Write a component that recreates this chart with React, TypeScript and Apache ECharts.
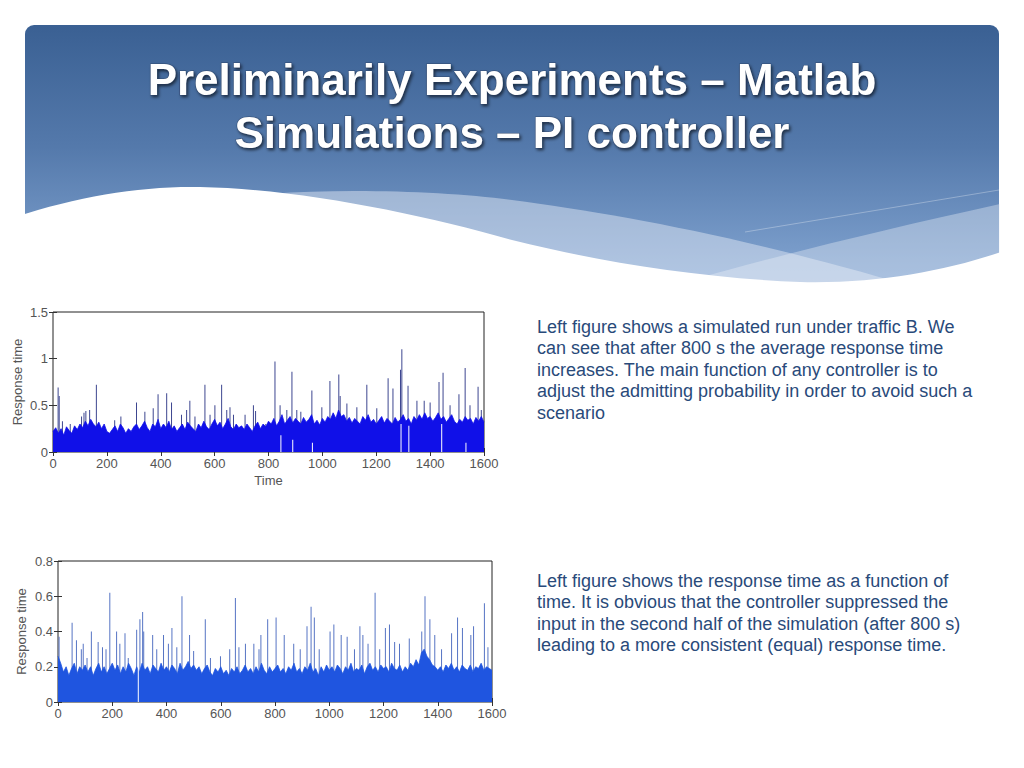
import React, { useEffect, useRef } from "react";
import * as echarts from "echarts";

// ---------- texts ----------
const TITLE_LINES = ["Preliminarily Experiments – Matlab", "Simulations – PI controller"];
const PARA1 = [
  "Left figure shows a simulated run under traffic B. We",
  "can see that after 800 s the average response time",
  "increases. The main function of any controller is to",
  "adjust the admitting probability in order to avoid such a",
  "scenario",
];
const PARA2 = [
  "Left figure shows the response time as a function of",
  "time. It is obvious that the controller suppressed the",
  "input in the second half of the simulation (after 800 s)",
  "leading to a more consistent (equal) response time.",
];
const Y_NAME = "Response time";
const X_NAME = "Time";

// ---------- data ----------
const TIME_MIN = 0;
const TIME_MAX = 1600;
const TIME_TICK = 200;
const BASE_STEP = 10; // seconds between base samples

// Plot 1 (no controller): base level of the dense fill
const base1 = [
  0.22, 0.26, 0.2, 0.25, 0.18, 0.27, 0.23, 0.2, 0.28, 0.24, 0.3,
  0.26, 0.33, 0.28, 0.35, 0.3, 0.27, 0.32, 0.25, 0.3, 0.22,
  0.2, 0.24, 0.28, 0.22, 0.3, 0.26, 0.2, 0.25, 0.22, 0.27,
  0.3, 0.24, 0.28, 0.33, 0.26, 0.22, 0.3, 0.27, 0.35, 0.25,
  0.3, 0.26, 0.33, 0.24, 0.28, 0.22, 0.26, 0.3, 0.24, 0.32,
  0.28, 0.25, 0.22, 0.3, 0.26, 0.33, 0.27, 0.24, 0.3, 0.35,
  0.28, 0.32, 0.25, 0.3, 0.36, 0.27, 0.24, 0.3, 0.26, 0.28,
  0.24, 0.3, 0.26, 0.22, 0.28, 0.32, 0.25, 0.3, 0.27, 0.33,
  0.3, 0.36, 0.28, 0.33, 0.4, 0.3, 0.34, 0.38, 0.31, 0.36,
  0.33, 0.3, 0.37, 0.32, 0.35, 0.4, 0.3, 0.34, 0.29, 0.36,
  0.32, 0.38, 0.35, 0.42, 0.36, 0.45, 0.38, 0.4, 0.33, 0.37,
  0.31, 0.36, 0.33, 0.3, 0.38, 0.34, 0.4, 0.32, 0.35, 0.3,
  0.34, 0.38, 0.31, 0.36, 0.33, 0.3, 0.37, 0.32, 0.35, 0.4,
  0.33, 0.36, 0.3, 0.38, 0.34, 0.4, 0.35, 0.42, 0.36, 0.38,
  0.33, 0.37, 0.42, 0.35, 0.38, 0.32, 0.36, 0.4, 0.33, 0.3,
  0.35, 0.32, 0.38, 0.34, 0.36, 0.3, 0.37, 0.33, 0.38, 0.32,
];
const spikeT1 = [
  19, 23, 35, 64, 106, 115, 122, 136, 161, 229, 252, 310, 341, 372, 390, 422, 440, 477, 496, 508,
  527, 564, 583, 601, 626, 645, 657, 670, 713, 744, 752, 790, 824, 843, 868, 887, 905, 920, 961, 998,
  1028, 1061, 1066, 1091, 1128, 1165, 1202, 1244, 1262, 1290, 1295, 1318, 1351, 1378, 1400, 1433,
  1448, 1474, 1507, 1530, 1548, 1578, 1590,
];
const spikeV1 = [
  0.69, 0.6, 0.33, 0.3, 0.38, 0.42, 0.44, 0.45, 0.72, 0.34, 0.38, 0.53, 0.43, 0.47, 0.62, 0.63, 0.53, 0.4, 0.45, 0.55,
  0.38, 0.72, 0.4, 0.5, 0.72, 0.45, 0.48, 0.4, 0.4, 0.5, 0.44, 0.3, 0.97, 0.5, 0.45, 0.86, 0.45, 0.43, 0.66, 0.48,
  0.76, 0.83, 0.6, 0.52, 0.48, 0.72, 0.47, 0.79, 0.68, 0.88, 1.1, 0.71, 0.55, 0.55, 0.53, 0.75,
  0.85, 0.5, 0.62, 0.9, 0.5, 0.7, 0.45,
];
const gapT1 = [846, 890, 963, 1292, 1321, 1443, 1533];
const gapV1 = [0.18, 0.13, 0.1, 0.3, 0.28, 0.3, 0.1];

// Plot 2 (PI controller)
const base2 = [
  0.26, 0.22, 0.17, 0.2, 0.15, 0.19, 0.22, 0.16, 0.2, 0.18, 0.21,
  0.17, 0.2, 0.15, 0.19, 0.22, 0.17, 0.2, 0.16, 0.19, 0.22,
  0.18, 0.21, 0.16, 0.2, 0.17, 0.22, 0.19, 0.15, 0.2, 0.17,
  0.22, 0.18, 0.2, 0.16, 0.21, 0.19, 0.17, 0.22, 0.18, 0.2,
  0.17, 0.21, 0.19, 0.16, 0.22, 0.18, 0.2, 0.23, 0.19, 0.21,
  0.18, 0.2, 0.16, 0.19, 0.21, 0.17, 0.15, 0.19, 0.17, 0.2,
  0.16, 0.18, 0.15, 0.19, 0.17, 0.2, 0.16, 0.18, 0.21, 0.17,
  0.19, 0.16, 0.2, 0.17, 0.22, 0.18, 0.16, 0.2, 0.17, 0.19,
  0.21, 0.17, 0.19, 0.16, 0.2, 0.18, 0.22, 0.17, 0.19, 0.16,
  0.2, 0.18, 0.22, 0.17, 0.19, 0.15, 0.2, 0.17, 0.21, 0.18,
  0.2, 0.17, 0.21, 0.19, 0.16, 0.2, 0.18, 0.22, 0.17, 0.19,
  0.18, 0.21, 0.16, 0.2, 0.22, 0.18, 0.2, 0.17, 0.21, 0.19,
  0.2, 0.17, 0.22, 0.19, 0.18, 0.21, 0.17, 0.2, 0.18, 0.22,
  0.2, 0.24, 0.21, 0.28, 0.3, 0.26, 0.24, 0.21, 0.2, 0.18,
  0.2, 0.17, 0.21, 0.19, 0.22, 0.18, 0.2, 0.17, 0.21, 0.19,
  0.18, 0.21, 0.17, 0.2, 0.19, 0.22, 0.18, 0.2, 0.19, 0.18,
];
const spikeT2 = [
  4, 52, 68, 86, 93, 107, 123, 148, 164, 177, 191, 216, 228, 247, 259, 290, 302, 312, 316, 349,
  364, 389, 407, 420, 438, 457, 485, 500, 543, 562, 599, 633, 654, 667, 691, 722, 741, 748, 773, 804,
  834, 869, 893, 918, 933, 945, 963, 1003, 1017, 1044, 1066, 1093, 1113, 1124, 1143, 1169, 1186, 1207,
  1222, 1241, 1259, 1295, 1341, 1353, 1371, 1389, 1414, 1451, 1473, 1491, 1522, 1532, 1572, 1585,
];
const spikeV2 = [
  0.37, 0.45, 0.35, 0.3, 0.33, 0.25, 0.4, 0.34, 0.31, 0.3, 0.62, 0.4, 0.33, 0.39, 0.25, 0.41, 0.47, 0.51, 0.4, 0.38,
  0.3, 0.38, 0.33, 0.42, 0.31, 0.6, 0.38, 0.29, 0.47, 0.25, 0.26, 0.3, 0.59, 0.31, 0.33, 0.33, 0.3, 0.38, 0.47, 0.48,
  0.38, 0.33, 0.3, 0.43, 0.54, 0.48, 0.3, 0.4, 0.44, 0.38, 0.37, 0.3, 0.43, 0.38, 0.33, 0.62, 0.3, 0.42,
  0.44, 0.34, 0.33, 0.36, 0.4, 0.6, 0.47, 0.38, 0.3, 0.39, 0.48, 0.42, 0.38, 0.43, 0.56, 0.31,
];
const gapT2 = [296];
const gapV2 = [0.3];

// ---------- decorative shapes ----------
const WAVE_WHITE =
  "M 15 217 C 80 196 140 186 200 187 C 300 189 420 214 512 240 C 600 262 700 278 800 282 C 880 284 950 270 1010 249 L 1010 300 L 15 300 Z";
const WAVE_BAND1 =
  "M 270 194 C 350 188 450 192 512 200 C 620 214 760 240 930 292 L 270 292 Z";
const WAVE_BAND2 = "M 640 296 C 720 270 850 237 1000 204 L 1000 296 Z";

echarts.graphic.registerShape("waveWhite", echarts.graphic.extendPath(WAVE_WHITE, {}) as any);
echarts.graphic.registerShape("waveBand1", echarts.graphic.extendPath(WAVE_BAND1, {}) as any);
echarts.graphic.registerShape("waveBand2", echarts.graphic.extendPath(WAVE_BAND2, {}) as any);

const FONT = "'Liberation Sans', Arial, Helvetica, sans-serif";

function pairs(times: number[], vals: number[]) {
  return vals.map((v, i) => [times[i], v]);
}
function basePairs(vals: number[]) {
  return vals.map((v, i) => [TIME_MIN + i * BASE_STEP, v]);
}

function makeAxes(gridIndex: number, yMax: number, yInt: number, yGap: number, showXName: boolean) {
  const tick = { show: true, inside: true, length: 4, lineStyle: { color: "#333", width: 1 } };
  const label = { color: "#555", fontSize: 13, fontFamily: FONT, margin: 5 };
  const xs = [
    {
      type: "value", gridIndex, min: TIME_MIN, max: TIME_MAX, interval: TIME_TICK,
      axisLine: { show: false }, axisTick: tick, splitLine: { show: false },
      axisLabel: { ...label, formatter: (v: number) => String(Math.round(v)) },
      name: showXName ? X_NAME : "", nameLocation: "middle", nameGap: 22,
      nameTextStyle: { color: "#555", fontSize: 13, fontFamily: FONT },
    },
    {
      type: "value", gridIndex, position: "top", min: TIME_MIN, max: TIME_MAX, interval: TIME_TICK,
      axisLine: { show: false }, axisTick: tick, splitLine: { show: false }, axisLabel: { show: false },
    },
  ];
  const ys = [
    {
      type: "value", gridIndex, min: 0, max: yMax, interval: yInt,
      axisLine: { show: false }, axisTick: tick, splitLine: { show: false },
      axisLabel: { ...label, formatter: (v: number) => String(+v.toFixed(1)) },
      name: Y_NAME, nameLocation: "middle", nameGap: yGap,
      nameTextStyle: { color: "#555", fontSize: 13, fontFamily: FONT },
    },
    {
      type: "value", gridIndex, position: "right", min: 0, max: yMax, interval: yInt,
      axisLine: { show: false }, axisTick: tick, splitLine: { show: false }, axisLabel: { show: false },
    },
  ];
  return { xs, ys };
}

export default function App() {
  const ref = useRef<HTMLDivElement>(null);

  useEffect(() => {
    if (!ref.current) return;
    const chart = echarts.init(ref.current, undefined, { renderer: "svg" });

    const a1 = makeAxes(0, 1.5, 0.5, 29, true);
    const a2 = makeAxes(1, 0.8, 0.2, 30, false);

    const c1 = "#1010e8";
    const s1 = "#3d4690";
    const c2 = "#1f55e0";
    const s2 = "#5674c4";

    const option: any = {
      animation: false,
      backgroundColor: "#ffffff",
      grid: [
        { left: 53, top: 312, width: 431, height: 140, show: true, borderColor: "#222", borderWidth: 1, backgroundColor: "#fff" },
        { left: 58, top: 561, width: 434, height: 141, show: true, borderColor: "#222", borderWidth: 1, backgroundColor: "#fff" },
      ],
      xAxis: [...a1.xs, ...a2.xs],
      yAxis: [...a1.ys, ...a2.ys],
      series: [
        {
          type: "bar", xAxisIndex: 0, yAxisIndex: 0, barWidth: 1, barGap: "-100%", z: 2,
          itemStyle: { color: s1 }, data: pairs(spikeT1, spikeV1),
        },
        {
          type: "line", xAxisIndex: 0, yAxisIndex: 0, showSymbol: false, symbol: "none", z: 3,
          lineStyle: { color: c1, width: 0.8 }, areaStyle: { color: c1, opacity: 1 },
          data: basePairs(base1),
        },
        {
          type: "bar", xAxisIndex: 0, yAxisIndex: 0, barWidth: 1, barGap: "-100%", z: 4,
          itemStyle: { color: "#ffffff" }, data: pairs(gapT1, gapV1),
        },
        {
          type: "bar", xAxisIndex: 2, yAxisIndex: 2, barWidth: 1, barGap: "-100%", z: 2,
          itemStyle: { color: s2 }, data: pairs(spikeT2, spikeV2),
        },
        {
          type: "line", xAxisIndex: 2, yAxisIndex: 2, showSymbol: false, symbol: "none", z: 3,
          lineStyle: { color: c2, width: 0.8 }, areaStyle: { color: c2, opacity: 1 },
          data: basePairs(base2),
        },
        {
          type: "bar", xAxisIndex: 2, yAxisIndex: 2, barWidth: 1, barGap: "-100%", z: 4,
          itemStyle: { color: "#ffffff" }, data: pairs(gapT2, gapV2),
        },
      ],
      graphic: [
        {
          type: "rect", shape: { x: 25, y: 25, width: 974, height: 270, r: [9, 9, 0, 0] }, z: 0,
          style: {
            fill: {
              type: "linear", x: 0, y: 0, x2: 0, y2: 1,
              colorStops: [
                { offset: 0, color: "#3a6093" },
                { offset: 0.45, color: "#5479ab" },
                { offset: 1, color: "#88aad6" },
              ],
            },
          },
        },
        { type: "waveBand1", x: 0, y: 0, z: 1, style: { fill: "rgba(235,240,248,0.45)" } },
        { type: "waveBand2", x: 0, y: 0, z: 1, style: { fill: "rgba(235,240,248,0.38)" } },
        { type: "line", z: 1, shape: { x1: 745, y1: 232, x2: 999, y2: 190 }, style: { stroke: "rgba(255,255,255,0.3)", lineWidth: 1 } },
        { type: "waveWhite", x: 0, y: 0, z: 2, style: { fill: "#ffffff" } },
        ...TITLE_LINES.map((t, i) => ({
          type: "text", z: 5,
          style: {
            text: t, x: 512, y: 79 + i * 53, textAlign: "center", textVerticalAlign: "middle",
            fill: "#ffffff", fontSize: 44, fontWeight: "bold", fontFamily: FONT,
            stroke: "rgba(30,45,75,0.55)", lineWidth: 1,
            textShadowColor: "rgba(0,0,0,0.6)", textShadowBlur: 3, textShadowOffsetX: 1.5, textShadowOffsetY: 2,
          },
        })),
        {
          type: "text", z: 5,
          style: {
            text: PARA1.join("\n"), x: 537, y: 316, textAlign: "left", textVerticalAlign: "top",
            fill: "#294a7a", fontSize: 18, lineHeight: 21.5, fontFamily: FONT,
          },
        },
        {
          type: "text", z: 5,
          style: {
            text: PARA2.join("\n"), x: 537, y: 570, textAlign: "left", textVerticalAlign: "top",
            fill: "#294a7a", fontSize: 18, lineHeight: 21.5, fontFamily: FONT,
          },
        },
      ],
    };

    chart.setOption(option);
    return () => chart.dispose();
  }, []);

  return (
    <div
      ref={ref}
      style={{ position: "absolute", left: 0, top: 0, width: 1024, height: 768, background: "#fff" }}
    />
  );
}
